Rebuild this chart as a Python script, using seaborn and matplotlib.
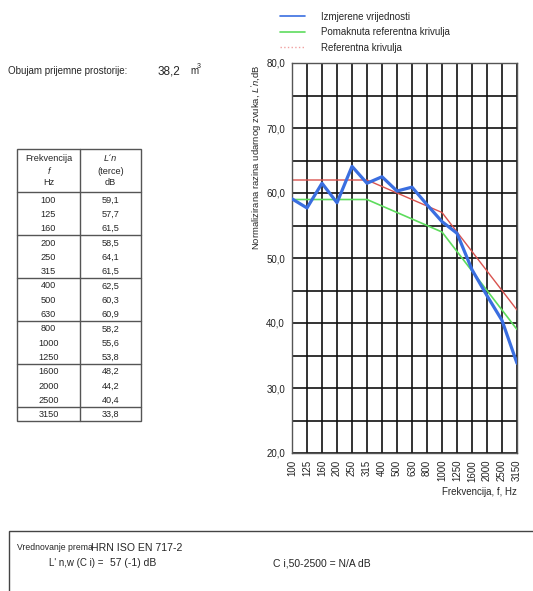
import numpy as np
import pandas as pd
import seaborn as sns
import matplotlib.pyplot as plt
from matplotlib.lines import Line2D
from matplotlib.patches import Rectangle

# chart data
freqs = ['100', '125', '160', '200', '250', '315', '400', '500', '630',
         '800', '1000', '1250', '1600', '2000', '2500', '3150']
measured = [59.1, 57.7, 61.5, 58.5, 64.1, 61.5, 62.5, 60.3, 60.9,
            58.2, 55.6, 53.8, 48.2, 44.2, 40.4, 33.8]
table_values = ['59,1', '57,7', '61,5', '58,5', '64,1', '61,5', '62,5', '60,3', '60,9',
                '58,2', '55,6', '53,8', '48,2', '44,2', '40,4', '33,8']
reference = [62, 62, 62, 62, 62, 62, 61, 60, 59, 58, 57, 54, 51, 48, 45, 42]
shifted = [59, 59, 59, 59, 59, 59, 58, 57, 56, 55, 54, 51, 48, 45, 42, 39]
series_names = ['Izmjerene vrijednosti', 'Pomaknuta referentna krivulja', 'Referentna krivulja']
series_colors = ['#3a6ee0', '#5ddc5d', '#d9534f']
y_ticks = [20, 30, 40, 50, 60, 70, 80]

W, H = 533, 591

sns.set_style("white")
plt.rcParams['font.family'] = ['Liberation Sans', 'DejaVu Sans']
plt.rcParams['mathtext.fontset'] = 'custom'
plt.rcParams['mathtext.rm'] = 'Liberation Sans'
plt.rcParams['mathtext.it'] = 'Liberation Sans:italic'

fig = plt.figure(figsize=(W / 100, H / 100), dpi=100)


def fx(px):
    return px / W


def fy(py):
    return 1 - py / H


# main chart
ax = fig.add_axes([fx(292), fy(453), (517 - 292) / W, (453 - 63) / H])
pos = np.arange(len(freqs))
df = pd.DataFrame({
    'pos': np.tile(pos, 3),
    'value': measured + shifted + reference,
    'series': np.repeat(series_names, len(freqs)),
})
widths = {series_names[0]: 2.3, series_names[1]: 1.2, series_names[2]: 1.0}
for name, color in zip(series_names, series_colors):
    sub = df[df['series'] == name]
    sns.lineplot(data=sub, x='pos', y='value', color=color, lw=widths[name],
                 ax=ax, zorder=3 if name == series_names[0] else 2)

ax.set_xlim(0, len(freqs) - 1)
ax.set_ylim(20, 80)
ax.set_xticks(pos)
ax.set_xticklabels(freqs, rotation=90, fontsize=7, color='#222222')
ax.set_yticks(y_ticks)
ax.set_yticklabels([f'{v},0' for v in y_ticks], fontsize=7, color='#222222')
ax.set_yticks(np.arange(25, 80, 10), minor=True)
ax.grid(True, which='major', axis='both', color='#111111', lw=1.2)
ax.grid(True, which='minor', axis='y', color='#111111', lw=1.2)
ax.tick_params(axis='both', which='major', direction='out', length=3, width=0.8, pad=2)
ax.tick_params(axis='y', which='minor', length=0)
ax.set_xlabel('')
ax.set_ylabel('')
for s in ax.spines.values():
    s.set_color('#555555')
    s.set_linewidth(1.0)

fig.text(fx(257), fy(157), "Normalizirana razina udarnog zvuka, $\\it{L'n}$,dB",
         rotation=90, ha='center', va='center', fontsize=6.8)
fig.text(fx(517), fy(492), 'Frekvencija, f, Hz', ha='right', va='center', fontsize=7)

# legend
handles = [Line2D([0], [0], color=c, lw=1.2) for c in series_colors]
handles[2] = Line2D([0], [0], color='#f0a0a0', lw=1.0, ls=':')
fig.legend(handles, series_names, loc='upper left', bbox_to_anchor=(fx(276), fy(8)),
           frameon=False, fontsize=7, handlelength=2.6, handletextpad=1.6,
           labelspacing=0.55, borderaxespad=0)

# volume text
fig.text(fx(8), fy(71), 'Obujam prijemne prostorije:', fontsize=7, va='center')
fig.text(fx(158), fy(71), '38,2', fontsize=8.5, va='center')
fig.text(fx(190), fy(71), 'm', fontsize=7, va='center')
fig.text(fx(197), fy(67), '3', fontsize=5, va='center')

# table
tl, tm, tr = 17, 80, 141
ttop, thead, row_h = 149, 192, 14.3
n = len(freqs)
tbot = thead + n * row_h
lc = '#555555'
fig.add_artist(Rectangle((fx(tl), fy(tbot)), (tr - tl) / W, (tbot - ttop) / H,
                         transform=fig.transFigure, fill=False, ec=lc, lw=1.0))
fig.add_artist(Line2D([fx(tm), fx(tm)], [fy(ttop), fy(tbot)], color=lc, lw=1.0))
for k in range(0, n, 3):
    yline = thead + k * row_h
    fig.add_artist(Line2D([fx(tl), fx(tr)], [fy(yline), fy(yline)], color=lc, lw=1.0))
c1, c2 = (tl + tm) / 2, (tm + tr) / 2
tfs = 6.6
fig.text(fx(c1), fy(158), 'Frekvencija', ha='center', va='center', fontsize=tfs)
fig.text(fx(c1), fy(171), 'f', ha='center', va='center', fontsize=tfs, style='italic')
fig.text(fx(c1), fy(183), 'Hz', ha='center', va='center', fontsize=tfs)
fig.text(fx(c2), fy(158), "L´n", ha='center', va='center', fontsize=tfs, style='italic')
fig.text(fx(c2), fy(171), '(terce)', ha='center', va='center', fontsize=tfs)
fig.text(fx(c2), fy(183), 'dB', ha='center', va='center', fontsize=tfs)
for i, (f, v) in enumerate(zip(freqs, table_values)):
    yc = thead + i * row_h + row_h / 2 + 1
    fig.text(fx(c1), fy(yc), f, ha='center', va='center', fontsize=tfs)
    fig.text(fx(c2), fy(yc), v, ha='center', va='center', fontsize=tfs)

# bottom box
fig.add_artist(Rectangle((fx(9), fy(620)), (560 - 9) / W, (620 - 531) / H,
                         transform=fig.transFigure, fill=False, ec='#444444', lw=1.0))
fig.text(fx(17), fy(548), 'Vrednovanje prema', fontsize=6.2, va='center')
fig.text(fx(91), fy(548), 'HRN ISO EN 717-2', fontsize=7.6, va='center')
fig.text(fx(49), fy(563), "L' n,w (C i) =", fontsize=7, va='center')
fig.text(fx(110), fy(563), '57 (-1) dB', fontsize=7.5, va='center')
fig.text(fx(273), fy(563), 'C i,50-2500 = N/A dB', fontsize=7.5, va='center')

fig.savefig('out.png', dpi=100)
